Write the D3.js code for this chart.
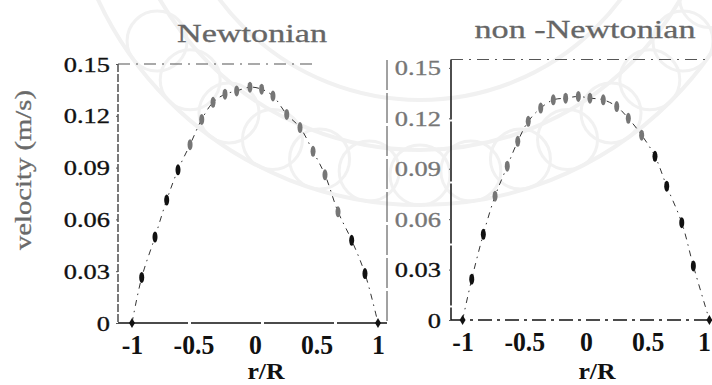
<!DOCTYPE html>
<html>
<head>
<meta charset="utf-8">
<script src="https://cdn.jsdelivr.net/npm/d3@7/dist/d3.min.js"></script>
<style>
  body { margin: 0; background: #fff; }
  text { font-family: "Liberation Serif", "Times New Roman", serif; }
</style>
</head>
<body>
<svg id="chart" width="712" height="385"></svg>
<script>
// values
const xTicks = [-1, -0.5, 0, 0.5, 1];
const xTickLabels = ["-1", "-0.5", "0", "0.5", "1"];
const yTicks = [0, 0.03, 0.06, 0.09, 0.12, 0.15];
const yTickLabels = ["0", "0.03", "0.06", "0.09", "0.12", "0.15"];
const titles = ["Newtonian", "non -Newtonian"];

const newtR = [-1, -0.921, -0.813, -0.718, -0.626, -0.528, -0.433, -0.341, -0.244, -0.149, -0.041,
               0.054, 0.146, 0.258, 0.366, 0.472, 0.569, 0.675, 0.786, 0.894, 1];
const newtV = [0, 0.0264, 0.0498, 0.0712, 0.0887, 0.1033, 0.1179, 0.1278, 0.1325, 0.1344, 0.1366,
               0.1354, 0.1315, 0.1208, 0.1132, 0.0994, 0.0858, 0.0644, 0.0479, 0.0286, 0];

const nonR = [-1, -0.926, -0.832, -0.737, -0.638, -0.553, -0.468, -0.367, -0.265, -0.165, -0.062,
              0.032, 0.14, 0.249, 0.343, 0.451, 0.559, 0.654, 0.776, 0.87, 1];
const nonV = [0, 0.0243, 0.051, 0.0737, 0.0915, 0.1063, 0.1182, 0.1261, 0.131, 0.132, 0.133,
              0.132, 0.131, 0.127, 0.120, 0.110, 0.0974, 0.0796, 0.0579, 0.0322, 0];

const svg = d3.select("#chart");
const K = 1.2; // the scan is stretched sideways, so the small type is too

// faint seal watermark behind everything
const wm = svg.append("g").attr("fill", "none").attr("stroke", "#f1f1f1");
[250, 300, 355].forEach(r => {
  wm.append("circle").attr("cx", 420).attr("cy", -150).attr("r", r).attr("stroke-width", 4);
});
d3.range(14).forEach(i => {
  const a = Math.PI * (0.15 + i * 0.05);
  wm.append("circle")
    .attr("cx", 420 + 325 * Math.cos(a)).attr("cy", -150 + 325 * Math.sin(a))
    .attr("r", 30).attr("stroke-width", 3);
});

// marks inside the seal come out grey on the scan
function ink(px, py) {
  return Math.hypot(px - 420, py + 150) < 385 ? "#767676" : "#111";
}

const panels = [
  { r: newtR, v: newtV, x0: 118, x1: 387, c: 255, s: 123, y0: 323, yTop: 64, vMax: 0.15, topEnd: 312,
    title: titles[0], tx: 252, ty: 42, tw: 150, lx: 266 },
  { r: nonR, v: nonV, x0: 451, x1: 712, c: 586, s: 123.4, y0: 320, yTop: 59.5, vMax: 0.155, topEnd: 706,
    title: titles[1], tx: 585, ty: 38, tw: 221, lx: 597 }
];

panels.forEach((p, pi) => {
  const x = d3.scaleLinear().domain([(p.x0 - p.c) / p.s, (p.x1 - p.c) / p.s]).range([p.x0, p.x1]);
  const y = d3.scaleLinear().domain([0, p.vMax]).range([p.y0, p.yTop]);
  const g = svg.append("g");

  // frame
  g.append("line").attr("x1", p.x0).attr("x2", p.x0).attr("y1", p.yTop).attr("y2", p.y0)
    .attr("stroke", "#222").attr("stroke-width", pi ? 1.6 : 1.2).attr("stroke-dasharray", pi ? "60,2" : "8,2");
  g.append("line").attr("x1", p.x0).attr("x2", p.topEnd).attr("y1", p.yTop).attr("y2", p.yTop)
    .attr("stroke", "#555").attr("stroke-width", 1.1).attr("stroke-dasharray", "12,6,2,6");
  g.append("line").attr("x1", p.x0).attr("x2", p.x1).attr("y1", p.y0).attr("y2", p.y0)
    .attr("stroke", "#111").attr("stroke-width", 1.5).attr("stroke-dasharray", pi ? "14,5,3,5" : "70,3");
  if (!pi) {
    g.append("line").attr("x1", p.x1).attr("x2", p.x1).attr("y1", 60).attr("y2", p.y0)
      .attr("stroke", "#444").attr("stroke-width", 1).attr("stroke-dasharray", "30,3");
  }

  // axes
  const ya = g.append("g").attr("transform", `translate(${p.x0},0)`)
    .call(d3.axisLeft(y).tickValues(yTicks).tickFormat((d, i) => yTickLabels[i])
      .tickSize(2).tickSizeOuter(0).tickPadding(pi ? 8 : 6));
  ya.select(".domain").remove();
  ya.selectAll(".tick line").attr("stroke", "#555");
  ya.selectAll(".tick text")
    .attr("font-size", 22).attr("font-family", "Liberation Serif")
    .attr("fill", d => ink(p.x0 - 30, y(d)))
    .attr("stroke", d => ink(p.x0 - 30, y(d))).attr("stroke-width", 0.35)
    .each(function() {
      const t = d3.select(this);
      t.attr("x", +t.attr("x") / K).attr("transform", `scale(${K},1)`);
    });

  const xa = g.append("g").attr("transform", `translate(0,${p.y0})`)
    .call(d3.axisBottom(x).tickValues(xTicks).tickFormat((d, i) => xTickLabels[i])
      .tickSize(0).tickPadding(11));
  xa.select(".domain").remove();
  xa.selectAll(".tick text")
    .attr("font-size", 28).attr("font-weight", "bold").attr("font-family", "Liberation Serif")
    .attr("fill", "#111")
    .attr("transform", "scale(0.92,1)")
    .attr("dx", (d, i) => (pi && i === 4) ? -6 : 0);

  // dash-dot profile curve
  const pts = p.r.map((r, i) => [r, p.v[i]]);
  g.append("path").datum(pts)
    .attr("fill", "none").attr("stroke", "#333").attr("stroke-width", 1)
    .attr("stroke-dasharray", "6,5,1.5,5")
    .attr("d", d3.line().x(d => x(d[0])).y(d => y(d[1])).curve(d3.curveCatmullRom));

  // markers
  g.selectAll("ellipse").data(pts.slice(1, -1)).join("ellipse")
    .attr("cx", d => x(d[0])).attr("cy", d => y(d[1]))
    .attr("rx", 2.5).attr("ry", 5.5)
    .attr("fill", d => ink(x(d[0]), y(d[1])));
  g.selectAll(".end").data([pts[0], pts[pts.length - 1]]).join("path")
    .attr("class", "end")
    .attr("transform", d => `translate(${x(d[0])},${y(d[1])})`)
    .attr("d", d3.symbol(d3.symbolDiamond, 30))
    .attr("fill", "#111");

  // texts
  svg.append("text").attr("x", p.tx).attr("y", p.ty).attr("text-anchor", "middle")
    .attr("font-size", 26).attr("fill", "#666").attr("stroke", "#666").attr("stroke-width", 0.3)
    .attr("textLength", p.tw).attr("lengthAdjust", "spacingAndGlyphs")
    .text(p.title);
  svg.append("text")
    .attr("transform", `translate(${p.lx},379) scale(1.12,1)`)
    .attr("text-anchor", "middle").attr("font-size", 23).attr("font-weight", "bold")
    .attr("fill", "#111").text("r/R");
});

svg.append("text")
  .attr("transform", "translate(31,170) rotate(-90)")
  .attr("text-anchor", "middle").attr("font-size", 23).attr("fill", "#6a6a6a")
  .attr("stroke", "#6a6a6a").attr("stroke-width", 0.3)
  .attr("textLength", 160).attr("lengthAdjust", "spacingAndGlyphs")
  .text("velocity (m/s)");
</script>
</body>
</html>
